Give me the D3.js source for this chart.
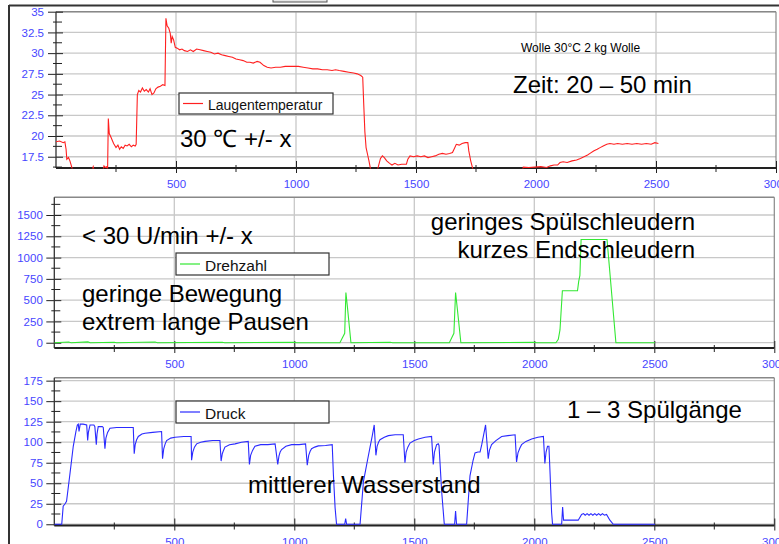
<!DOCTYPE html>
<html>
<head>
<meta charset="utf-8">
<script src="https://cdn.jsdelivr.net/npm/d3@7"></script>
<style>
  body { margin: 0; background: #fff; }
  svg { display: block; }
</style>
</head>
<body>
<svg id="chart" width="779" height="544"></svg>
<script>
// x axis (seconds)
const xTicks = [500, 1000, 1500, 2000, 2500, 3000];
const xMinor = [250, 750, 1250, 1750, 2250, 2750];

// y tick labels per panel
const tempTicks = [17.5, 20, 22.5, 25, 27.5, 30, 32.5, 35];
const drehzahlTicks = [0, 250, 500, 750, 1000, 1250, 1500];
const druckTicks = [0, 25, 50, 75, 100, 125, 150, 175];

// Laugentemperatur [t, °C]  (values below ~16.1 are off the chart)
const laugentemperatur = [
  [0,19.3],[15,19.4],[30,19.2],[37,19.3],[42,18.4],[45,17.2],[52,17.4],[58,17.0],[62,16.6],[70,15.8],
  [150,15.8],[155,16.3],[160,15.8],[196,15.8],[200,16.4],[206,16.2],[212,16.3],[215,15.9],
  [218,22.1],[222,20.3],[230,19.8],[240,19.1],[250,18.6],[258,18.9],[265,18.4],[272,18.7],[280,18.5],
  [288,18.9],[296,18.8],[305,19.0],[314,18.7],[322,18.9],[330,18.8],[334,19.0],
  [339,25.0],[345,25.5],[352,25.3],[360,25.8],[368,25.4],[376,25.6],[385,25.3],[392,25.7],[400,25.0],
  [408,25.2],[416,25.7],[425,25.9],[435,26.0],[445,26.2],[454,26.1],
  [458,34.2],[463,33.3],[470,33.0],[476,32.4],[480,31.2],[484,32.0],[490,31.6],[497,30.7],[505,30.6],
  [515,30.4],[525,30.5],[535,30.3],[548,30.2],[560,30.4],[572,30.2],[586,30.5],[600,30.4],[615,30.3],
  [630,30.2],[645,30.1],[660,29.9],[675,30.0],[690,29.8],[705,29.7],[720,29.6],[735,29.5],[750,29.3],
  [765,29.2],[780,29.1],[795,28.9],[808,28.9],[822,28.8],[838,29.0],[850,28.9],[866,28.5],[880,28.3],
  [896,28.2],[915,28.3],[935,28.3],[955,28.4],[975,28.4],[995,28.4],[1010,28.4],[1030,28.3],[1050,28.2],
  [1070,28.1],[1090,28.1],[1110,28.0],[1130,28.0],[1150,27.9],[1165,28.0],[1180,27.9],[1200,27.8],
  [1220,27.7],[1240,27.6],[1255,27.5],[1270,27.3],[1278,27.1],
  [1282,24.0],[1287,20.5],[1292,18.6],[1298,17.8],[1304,17.0],[1310,16.1],[1316,15.6],[1336,15.6],
  [1343,16.3],[1352,17.3],[1360,17.6],[1368,17.4],[1378,17.0],[1390,16.7],[1400,16.5],[1412,16.7],
  [1425,16.5],[1440,16.6],[1452,16.6],[1460,16.6],[1466,17.2],[1475,17.6],[1490,17.5],[1505,17.6],
  [1520,17.5],[1535,17.6],[1550,17.4],[1565,17.5],[1580,17.6],[1595,17.8],[1610,17.9],[1625,17.8],
  [1640,17.9],[1652,18.0],[1660,18.5],[1668,19.0],[1680,18.9],[1692,19.1],[1705,19.2],[1716,19.2],
  [1720,18.2],[1728,17.0],[1736,16.1],[1745,15.5],[1940,15.5],
  [1947,16.25],[1970,16.2],[1995,16.25],[2020,16.3],[2044,16.2],[2060,16.4],[2075,16.5],[2090,16.5],
  [2100,16.8],[2113,16.9],[2130,16.8],[2150,17.0],[2169,17.1],[2185,17.3],[2200,17.5],[2215,17.7],
  [2225,17.9],[2240,18.2],[2255,18.4],[2267,18.6],[2280,18.8],[2295,19.0],[2308,19.1],[2325,19.0],
  [2340,19.1],[2360,19.0],[2380,19.1],[2400,19.0],[2420,19.1],[2440,19.0],[2460,19.1],[2480,19.0],
  [2495,19.2],[2510,19.1]
];

// Drehzahl [t, U/min]
const drehzahl = [
  [0,0],[60,8],[70,0],[140,10],[150,0],[250,6],[260,0],[420,8],[430,0],[700,6],[710,0],
  [1000,6],[1010,0],[1190,0],[1210,110],[1215,590],[1222,400],[1236,0],[1400,5],[1410,0],
  [1646,0],[1665,110],[1672,590],[1680,380],[1694,0],[2000,5],[2010,0],[2090,0],[2100,40],
  [2107,150],[2117,610],[2180,610],[2185,720],[2190,790],[2195,1213],[2303,1213],[2340,0],[2503,0]
];

// Druck [t, mm]
const druck = [
  [0,0],[31,0],[37,22],[45,25],[51,28],[65,61],[79,95],[90,113],[96,121],[100,122],[103,113],[108,122],
  [120,122],[135,121],[139,102],[142,112],[149,121],[165,121],[169,119],[175,97],[178,110],[183,119],
  [200,119],[204,118],[211,92],[215,105],[222,112],[232,117],[260,118],[300,118],[329,118],
  [333,86],[337,97],[343,103],[350,107],[365,110],[378,111],[410,112],[447,113],
  [451,80],[456,92],[462,98],[468,102],[485,105],[503,106],[540,107],[570,107],
  [572,78],[577,88],[584,94],[593,98],[610,100],[628,101],[660,102],[690,102],
  [695,77],[700,86],[705,90],[711,94],[730,97],[753,98],[780,100],[808,101],
  [813,73],[818,84],[826,90],[836,95],[860,97],[890,97],[920,98],
  [931,73],[936,83],[941,88],[947,91],[965,95],[989,97],[1020,97],[1047,98],
  [1054,72],[1060,84],[1066,89],[1072,92],[1085,94],[1100,95.5],[1130,96],[1158,97],
  [1163,60],[1170,20],[1176,0],[1210,0],[1214,7],[1218,0],[1274,0],
  [1288,52],[1294,61],[1305,78],[1315,93],[1325,108],[1333,121],
  [1340,84],[1345,95],[1351,100],[1357,103],[1375,106],[1392,108],[1420,109],[1454,109],
  [1461,75],[1466,88],[1473,94],[1482,99],[1500,102],[1517,104],[1545,106],[1572,107],
  [1579,73],[1584,88],[1593,97],[1600,98],[1603,96],[1614,40],[1625,0],[1668,0],[1672,16],[1676,0],[1718,0],
  [1732,59],[1745,78],[1753,87],[1765,88],[1774,88],[1781,97],[1797,121],
  [1808,80],[1813,90],[1822,97],[1840,102],[1864,107],[1890,108],[1920,109],
  [1926,76],[1932,87],[1940,93],[1947,97],[1965,101],[1989,104],[2015,106],[2038,107],
  [2044,74],[2049,88],[2055,95],[2061,95],[2066,60],[2072,15],[2076,0],[2114,0],[2118,21],[2122,5],
  [2135,5],[2160,5],[2183,5],[2197,12],[2205,13],[2212,11],[2220,13],[2228,11],[2236,13],[2244,11],
  [2252,13],[2260,11],[2268,13],[2276,11],[2284,13],[2292,11],[2301,12],[2315,5],[2329,0],[2503,0]
];

const FONT = "'Liberation Sans', Arial, sans-serif";
const svg = d3.select("#chart");
svg.append("rect").attr("width", 779).attr("height", 544).attr("fill", "#fff");

// window frame remains at top / left
svg.append("line").attr("x1", 9).attr("x2", 779).attr("y1", 5.5).attr("y2", 5.5)
  .attr("stroke", "#333").attr("stroke-width", 2);
svg.append("line").attr("x1", 9).attr("x2", 9).attr("y1", 5).attr("y2", 544)
  .attr("stroke", "#333").attr("stroke-width", 2);
svg.append("rect").attr("x", 273).attr("y", -2).attr("width", 54).attr("height", 4)
  .attr("fill", "#e8e8e8").attr("stroke", "#555");

const panels = [
  { name: "Laugentemperatur", data: laugentemperatur, color: "#ff2020",
    yDomain: [16.14, 35], yTicks: tempTicks, minorStep: 1.25,
    left: 56, right: 776, top: 11.7, bottom: 168, labelPad: 12,
    legend: { x: 179, y: 93, w: 154, h: 21, fs: 14 } },
  { name: "Drehzahl", data: drehzahl, color: "#33e833",
    yDomain: [-62, 1708], yTicks: drehzahlTicks, minorStep: 125,
    left: 54.3, right: 774.3, top: 197.3, bottom: 348, labelPad: 11.5,
    legend: { x: 176, y: 253, w: 153, h: 22, fs: 15.5 } },
  { name: "Druck", data: druck, color: "#2a2aff",
    yDomain: [-1.5, 178.6], yTicks: druckTicks, minorStep: 12.5,
    left: 54.3, right: 774.3, top: 377.7, bottom: 525.5, labelPad: 11.5,
    legend: { x: 176, y: 401, w: 153, h: 22, fs: 15.5 } }
];

panels.forEach((p, i) => {
  const x = d3.scaleLinear().domain([0, 3000]).range([p.left, p.right]);
  const y = d3.scaleLinear().domain(p.yDomain).range([p.bottom, p.top]);
  const g = svg.append("g").attr("font-family", FONT);

  // grid
  g.append("g").selectAll("line").data(p.yTicks).join("line")
    .attr("x1", p.left).attr("x2", p.right)
    .attr("y1", d => y(d)).attr("y2", d => y(d))
    .attr("stroke", "#c8c8c8").attr("stroke-width", 1.3);
  g.append("g").selectAll("line").data(xTicks.slice(0, -1)).join("line")
    .attr("x1", d => x(d)).attr("x2", d => x(d))
    .attr("y1", p.top).attr("y2", p.bottom)
    .attr("stroke", "#c8c8c8").attr("stroke-width", 1.3);

  // frame top + right
  g.append("line").attr("x1", p.left).attr("x2", p.right).attr("y1", p.top).attr("y2", p.top)
    .attr("stroke", "#888").attr("stroke-width", 1.5);
  g.append("line").attr("x1", p.right).attr("x2", p.right).attr("y1", p.top).attr("y2", p.bottom)
    .attr("stroke", "#888").attr("stroke-width", 1.2);

  // y axis
  const yAxisG = g.append("g").attr("transform", `translate(${p.left},0)`)
    .call(d3.axisLeft(y).tickValues(p.yTicks).tickSize(0).tickPadding(p.labelPad).tickFormat(d => d));
  yAxisG.select(".domain").remove();
  yAxisG.selectAll(".tick line").attr("x1", -8).attr("x2", 7).attr("stroke", "#222");
  yAxisG.selectAll("text").attr("fill", "#4646ff").attr("font-size", "11.5px").attr("font-family", FONT);
  g.append("line").attr("x1", p.left).attr("x2", p.left).attr("y1", p.top).attr("y2", p.bottom)
    .attr("stroke", "#333").attr("stroke-width", 1.3);
  const yMinor = d3.range(p.yTicks[0] - p.minorStep, p.yDomain[1], p.minorStep)
    .filter(v => v >= p.yDomain[0] && !p.yTicks.includes(v));
  g.append("g").selectAll("line").data(yMinor).join("line")
    .attr("x1", p.left - 3).attr("x2", p.left + 6)
    .attr("y1", d => y(d)).attr("y2", d => y(d)).attr("stroke", "#222");

  // x axis
  const xAxisG = g.append("g").attr("transform", `translate(0,${p.bottom})`)
    .call(d3.axisBottom(x).tickValues(xTicks).tickSize(0).tickPadding(12).tickFormat(d3.format("d")));
  xAxisG.select(".domain").remove();
  xAxisG.selectAll(".tick line").attr("y1", -7).attr("y2", 5).attr("stroke", "#222");
  xAxisG.selectAll("text").attr("fill", "#4646ff").attr("font-size", "11.5px").attr("font-family", FONT);
  g.append("line").attr("x1", p.left).attr("x2", p.right).attr("y1", p.bottom).attr("y2", p.bottom)
    .attr("stroke", "#222").attr("stroke-width", 2);
  g.append("g").selectAll("line").data(xMinor).join("line")
    .attr("x1", d => x(d)).attr("x2", d => x(d))
    .attr("y1", p.bottom - 3).attr("y2", p.bottom + 4).attr("stroke", "#222");

  // series
  const clipId = "clip" + i;
  svg.append("clipPath").attr("id", clipId).append("rect")
    .attr("x", p.left).attr("y", p.top).attr("width", p.right - p.left).attr("height", p.bottom - p.top + 0.5);
  g.append("path").datum(p.data)
    .attr("clip-path", `url(#${clipId})`)
    .attr("fill", "none").attr("stroke", p.color).attr("stroke-width", 1.1)
    .attr("d", d3.line().x(d => x(d[0])).y(d => y(d[1])));

  // legend
  const L = p.legend;
  g.append("rect").attr("x", L.x).attr("y", L.y).attr("width", L.w).attr("height", L.h)
    .attr("fill", "#fff").attr("stroke", "#333").attr("stroke-width", 1.2);
  g.append("line").attr("x1", L.x + 4).attr("x2", L.x + 24)
    .attr("y1", L.y + L.h / 2).attr("y2", L.y + L.h / 2)
    .attr("stroke", p.color).attr("stroke-width", 1.2);
  g.append("text").attr("x", L.x + 29).attr("y", L.y + L.h - 4.5)
    .attr("font-size", L.fs + "px").attr("fill", "#111").text(p.name);
});

// annotations
const notes = [
  { t: "Wolle 30°C 2 kg Wolle", x: 521, y: 52, fs: 12 },
  { t: "Zeit: 20 – 50 min", x: 513, y: 93, fs: 24 },
  { t: "30 ℃ +/- x", x: 180, y: 147, fs: 24 },
  { t: "< 30 U/min +/- x", x: 82, y: 244, fs: 24 },
  { t: "geringe Bewegung", x: 82, y: 302, fs: 24 },
  { t: "extrem lange Pausen", x: 82, y: 330, fs: 24 },
  { t: "geringes Spülschleudern", x: 695, y: 230, fs: 24, anchor: "end" },
  { t: "kurzes Endschleudern", x: 695, y: 258, fs: 24, anchor: "end" },
  { t: "1 – 3 Spülgänge", x: 567, y: 418, fs: 24 },
  { t: "mittlerer Wasserstand", x: 248, y: 493, fs: 24 }
];
svg.append("g").attr("font-family", FONT).selectAll("text").data(notes).join("text")
  .attr("x", d => d.x).attr("y", d => d.y)
  .attr("font-size", d => d.fs + "px")
  .attr("text-anchor", d => d.anchor || "start")
  .attr("fill", "#000")
  .text(d => d.t);
</script>
</body>
</html>
